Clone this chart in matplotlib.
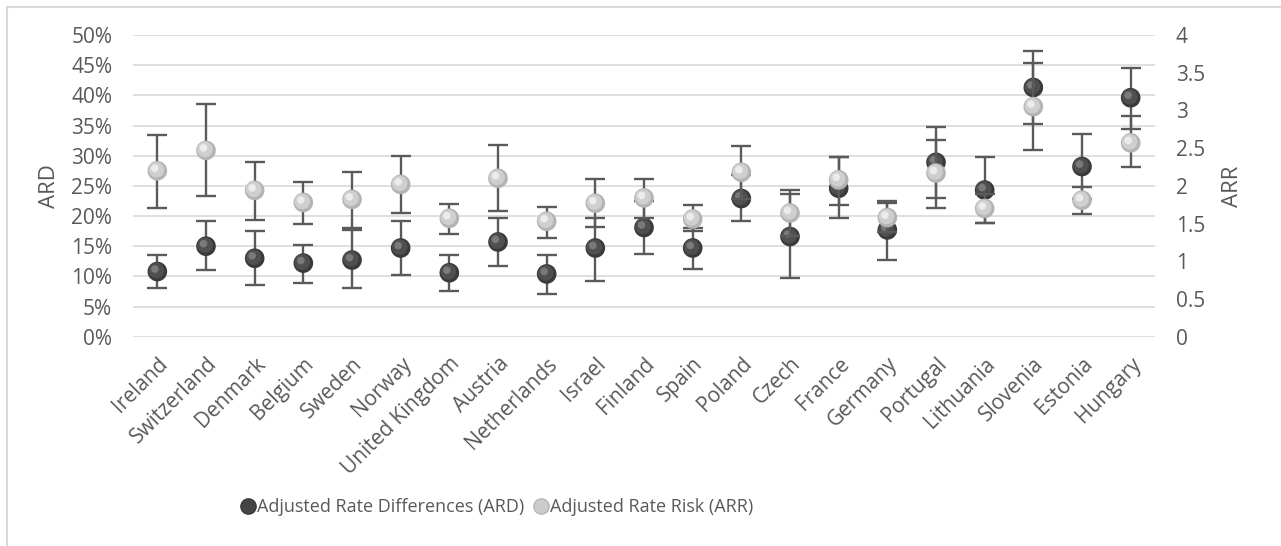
import numpy as np
import matplotlib
matplotlib.use("Agg")
import matplotlib.pyplot as plt
from matplotlib.ticker import PercentFormatter, MultipleLocator
from matplotlib.transforms import offset_copy
from matplotlib.lines import Line2D

plt.rcParams['font.family'] = ['Open Sans', 'DejaVu Sans']

countries = ['Ireland', 'Switzerland', 'Denmark', 'Belgium', 'Sweden', 'Norway',
             'United Kingdom', 'Austria', 'Netherlands', 'Israel', 'Finland', 'Spain',
             'Poland', 'Czech', 'France', 'Germany', 'Portugal', 'Lithuania',
             'Slovenia', 'Estonia', 'Hungary']

# adjusted rate differences (%), with lower / upper limits
ard = [10.8, 15.0, 13.0, 12.2, 12.7, 14.7, 10.6, 15.7, 10.4, 14.7, 18.1, 14.7,
       22.9, 16.6, 24.6, 17.7, 28.9, 24.3, 41.3, 28.2, 39.6]
ard_lo = [8.0, 11.1, 8.6, 8.9, 8.0, 10.2, 7.6, 11.7, 7.1, 9.3, 13.7, 11.3,
          19.1, 9.7, 19.7, 12.7, 23.0, 18.9, 35.3, 22.8, 34.4]
ard_hi = [13.5, 19.1, 17.5, 15.2, 17.7, 19.1, 13.5, 19.7, 13.5, 19.7, 22.5, 18.0,
          26.8, 23.6, 29.7, 22.5, 34.8, 29.8, 47.4, 33.6, 44.6]

# adjusted rate risk, with lower / upper limits
arr = [2.20, 2.47, 1.94, 1.78, 1.82, 2.02, 1.57, 2.10, 1.53, 1.77, 1.84, 1.56,
       2.18, 1.64, 2.08, 1.58, 2.17, 1.70, 3.05, 1.81, 2.57]
arr_lo = [1.71, 1.87, 1.55, 1.50, 1.44, 1.64, 1.36, 1.66, 1.31, 1.45, 1.58, 1.40,
          1.83, 1.34, 1.75, 1.39, 1.70, 1.51, 2.47, 1.63, 2.25]
arr_hi = [2.68, 3.08, 2.31, 2.05, 2.19, 2.40, 1.76, 2.54, 1.72, 2.09, 2.09, 1.74,
          2.53, 1.94, 2.38, 1.77, 2.61, 1.89, 3.63, 1.99, 2.92]

x = np.arange(len(countries))
ard = np.array(ard); arr = np.array(arr)
ard_err = [ard - np.array(ard_lo), np.array(ard_hi) - ard]
arr_err = [arr - np.array(arr_lo), np.array(arr_hi) - arr]

txt = '#595959'
fig = plt.figure(figsize=(12.81, 5.46), dpi=100)
ax1 = fig.add_axes([133 / 1281, 1 - 336.7 / 546, 1022 / 1281, 301.7 / 546])
ax2 = ax1.twinx()


def sphere(ax, xs, ys, base, mid, hi, z):
    ax.scatter(xs, ys, s=200, color=base, edgecolor='none', zorder=z)
    t1 = offset_copy(ax.transData, fig=fig, x=-1.0, y=1.0, units='dots')
    ax.scatter(xs, ys, s=125, color=mid, edgecolor='none', zorder=z + 0.1, transform=t1)
    t2 = offset_copy(ax.transData, fig=fig, x=-2.5, y=2.5, units='dots')
    ax.scatter(xs, ys, s=30, color=hi, edgecolor='none', zorder=z + 0.2, transform=t2)


ax1.errorbar(x, ard, yerr=ard_err, fmt='none', ecolor='#5a5a5a', elinewidth=1.7,
             capsize=7.5, capthick=1.7, zorder=2)
sphere(ax1, x, ard, '#3a3a3a', '#4f4f4f', '#7a7a7a', 3)

ax2.errorbar(x, arr, yerr=arr_err, fmt='none', ecolor='#5a5a5a', elinewidth=1.7,
             capsize=7.5, capthick=1.7, zorder=2)
sphere(ax2, x, arr, '#b4b4b4', '#cfcfcf', '#ececec', 3)

ax1.set_xlim(-0.5, len(countries) - 0.5)
ax1.set_ylim(0, 50)
ax2.set_ylim(0, 4)
ax1.yaxis.set_major_locator(MultipleLocator(5))
ax1.yaxis.set_major_formatter(PercentFormatter(xmax=100, decimals=0))
ax2.set_yticks([0, 0.5, 1, 1.5, 2, 2.5, 3, 3.5, 4])
ax2.set_yticklabels(['0', '0.5', '1', '1.5', '2', '2.5', '3', '3.5', '4'])

ax1.grid(axis='y', color='#d9d9d9', linewidth=1.2)
ax1.set_axisbelow(True)
for ax in (ax1, ax2):
    for s in ax.spines.values():
        s.set_visible(False)
    ax.tick_params(length=0, colors=txt, labelsize=15, pad=15)

ax1.set_xticks(x)
ax1.set_xticklabels(countries, rotation=45, ha='right', rotation_mode='anchor')
ax1.tick_params(axis='x', pad=12)

ax1.set_ylabel('ARD', color=txt, fontsize=16, labelpad=8)
ax2.set_ylabel('ARR', color=txt, fontsize=16, labelpad=12)

handles = [
    Line2D([], [], marker='o', linestyle='none', markersize=11,
           markerfacecolor='#454545', markeredgecolor='#3a3a3a'),
    Line2D([], [], marker='o', linestyle='none', markersize=11,
           markerfacecolor='#cccccc', markeredgecolor='#b4b4b4'),
]
fig.legend(handles, ['Adjusted Rate Differences (ARD)', 'Adjusted Rate Risk (ARR)'],
           loc='center', bbox_to_anchor=(496 / 1281, 1 - 507 / 546), ncol=2,
           frameon=False, fontsize=13, labelcolor=txt, handletextpad=0.0,
           columnspacing=0.4, handlelength=1.0)

# chart border (left and top edges visible)
fig.add_artist(Line2D([7 / 1281, 7 / 1281], [0, 1 - 7 / 546], color='#d9d9d9',
                      linewidth=1.5, transform=fig.transFigure))
fig.add_artist(Line2D([7 / 1281, 1], [1 - 7 / 546, 1 - 7 / 546], color='#d9d9d9',
                      linewidth=1.5, transform=fig.transFigure))

fig.savefig('out.png', dpi=100)
